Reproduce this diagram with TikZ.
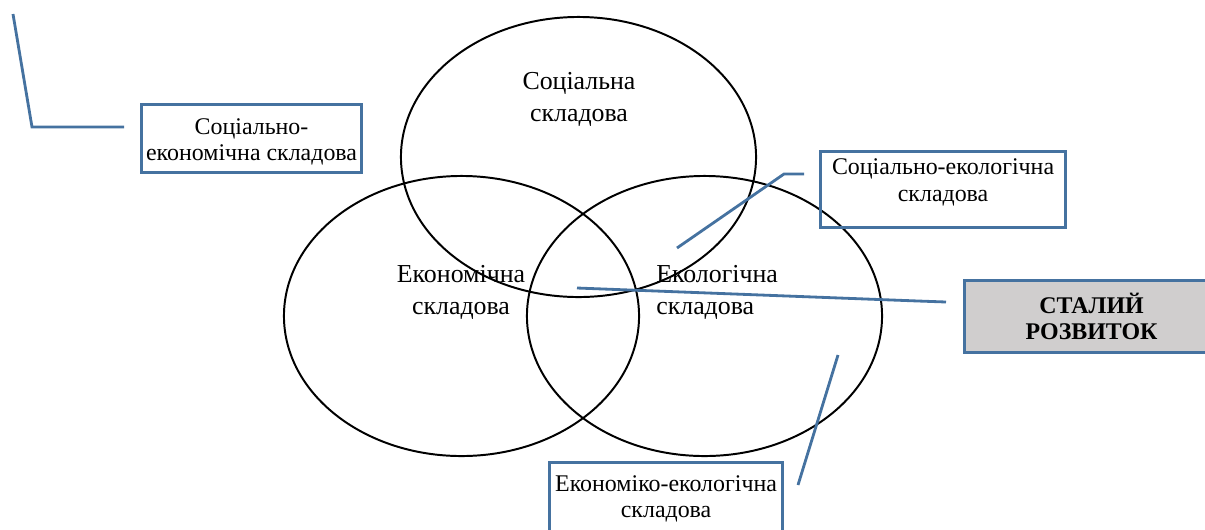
\documentclass[tikz,border=0pt]{standalone}
\usepackage{fontspec}
\setmainfont{Liberation Serif}
\usetikzlibrary{positioning,calc}
\definecolor{lineblue}{HTML}{4572A0}
\definecolor{boxgray}{HTML}{D0CECE}

\begin{document}
\begin{tikzpicture}[x=0.025cm,y=-0.025cm,
	ring/.style={draw=black, line width=1.4pt},
	framebox/.style={draw=lineblue, line width=2.2pt, rectangle, inner sep=0pt, anchor=north west},
	ringtext/.style={inner sep=0pt, align=center, font=\fontsize{18.4}{22.7}\selectfont},
	boxtext/.style={inner sep=0pt, align=center, font=\fontsize{17}{18.5}\selectfont},
	link/.style={-, color=lineblue, line width=2pt}]
	%Frame - the same size as the reference picture%
	\clip (0,0) rectangle (1205,529);
	%Definitions - sizes of the three ellipses%
	%===========================================================
	\def \Rx {4.4375cm}; %Horizontal radius of every ellipse
	\def \Ry {3.5cm}; %Vertical radius of every ellipse
	%Locations%
	%===========================================================
	\coordinate (socc) at (578.5,157); %Centre of social ellipse
	\coordinate (econc) at (461.5,316); %Centre of economic ellipse
	\coordinate (ecolc) at (704.5,316); %Centre of ecological ellipse
	%=============================================================================================================
	%Ellipses%
	%=============================================================================================================
	\draw[ring] (socc) ellipse ({\Rx} and {\Ry}); %Top ellipse
	\draw[ring] (econc) ellipse ({\Rx} and {\Ry}); %Left ellipse
	\draw[ring] (ecolc) ellipse ({\Rx} and {\Ry}); %Right ellipse
	
	\node[ringtext, anchor=north] (soctext) at (579,72) {Соціальна\\складова};
	\node[ringtext, anchor=north] (econtext) at (461,265) {Економічна\\складова};
	\node[ringtext, anchor=north west, align=left] (ecoltext) at (656,265) {Екологічна\\складова};
	
	%=============================================================================================================
	%Boxes%
	%=============================================================================================================
	\node[framebox, minimum width=5.5cm, minimum height=1.7cm] (sebox) at (140,103) {}; %Socio-economic box
	\node[boxtext, below=15*0.025cm of sebox.north] (setext) {Соціально-\\економічна складова};
	
	\node[framebox, minimum width=6.125cm, minimum height=1.9cm] (slbox) at (819,150) {}; %Socio-ecological box
	\node[boxtext, below=8*0.025cm of slbox.north, font=\fontsize{17}{19.5}\selectfont] (sltext) {Соціально-екологічна\\складова};
	
	\node[framebox, fill=boxgray, minimum width=6.35cm, minimum height=1.8cm] (srbox) at (963,279) {}; %Sustainable development box
	\node[boxtext, below=14*0.025cm of srbox.north, font=\fontsize{17}{18.5}\selectfont\bfseries] (srtext) {СТАЛИЙ\\РОЗВИТОК};
	
	\node[framebox, minimum width=5.825cm, minimum height=2cm] (eebox) at (548,461) {}; %Economic-ecological box
	\node[boxtext, below=14*0.025cm of eebox.north] (eetext) {Економіко-екологічна\\складова};
	
	%=============================================================================================================
	%Connectors%
	%=============================================================================================================
	\coordinate (l1a) at (13,14); %Free end, top left
	\coordinate (l1b) at (32,127); %Bend
	\coordinate (l1c) at (124,127); %End next to socio-economic box
	\draw[link] (l1a) -- (l1b) -- (l1c);
	
	\coordinate (l2a) at (677,248); %Free end in the overlap
	\coordinate (l2b) at (784,174); %Bend
	\coordinate (l2c) at (804,174); %End next to socio-ecological box
	\draw[link] (l2a) -- (l2b) -- (l2c);
	
	\coordinate (l3a) at (577,288); %Free end in the centre
	\coordinate (l3b) at (918,301); %Bend
	\coordinate (l3c) at (946,302); %End next to sustainable development box
	\draw[link] (l3a) -- (l3b) -- (l3c);
	
	\coordinate (l4a) at (838,355); %Free end inside right ellipse
	\coordinate (l4b) at (798,485); %End next to economic-ecological box
	\draw[link] (l4a) -- (l4b);
\end{tikzpicture}
\end{document}
